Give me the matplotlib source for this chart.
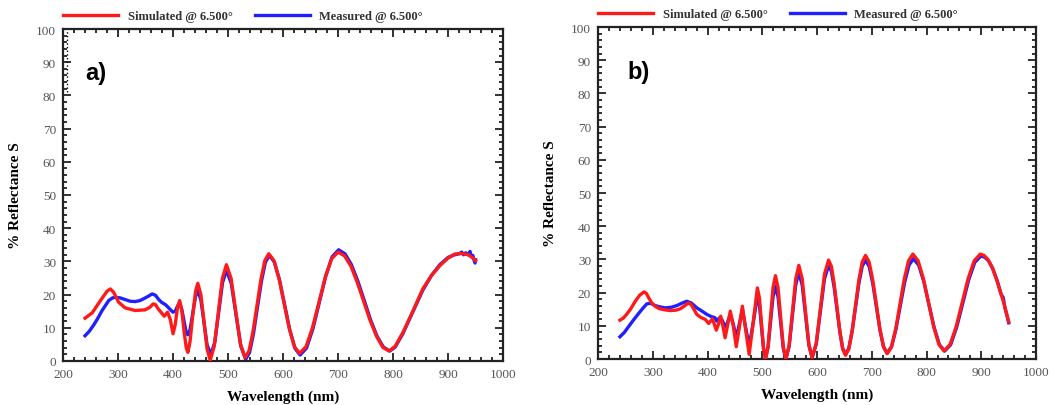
import matplotlib
matplotlib.use("Agg")
import matplotlib.pyplot as plt
from matplotlib.ticker import MultipleLocator

# ---- panel a) ----
a_sim_wl = [240, 253, 268, 280, 286, 292, 301, 313, 331, 349, 358, 364, 368, 373, 380, 384, 390, 395,
            400, 404, 408, 412, 416, 420, 424, 427, 431, 436, 441, 445,
            450.6, 456.3, 461.9, 467.5, 474.9, 482.3, 489.6, 497, 505.5, 514, 522.5, 531,
            538.2, 545.3, 552.5, 559.7, 566.8, 574, 583.3, 592.7, 602, 611.3, 620.7, 630,
            641.7, 653.3, 665, 676.7, 688.3, 700, 711.6, 723.3, 734.9, 746.5, 758.1, 769.8, 781.4, 793,
            804, 818, 836, 854, 870, 885, 900, 912, 925, 937, 945, 950]
a_sim_val = [12.9, 14.5, 18.2, 21.0, 21.7, 20.7, 17.7, 16.0, 15.2, 15.4, 16.2, 17.2, 17.0, 15.7, 14.3, 13.5, 14.7, 12.5,
             8.2, 11.0, 16.0, 18.2, 15.0, 9.0, 4.0, 2.6, 6.0, 14.0, 21.0, 23.4,
             20.0, 11.8, 3.6, 0.2, 4.4, 14.6, 24.8, 29.0, 24.9, 15.0, 5.1, 1.0,
             3.1, 8.8, 16.6, 24.5, 30.2, 32.3, 30.3, 24.8, 17.3, 9.8, 4.3, 2.3,
             4.3, 9.9, 17.5, 25.2, 30.8, 32.8, 31.7, 28.6, 23.7, 18.0, 12.3, 7.5, 4.1, 3.0,
             4.5, 8.6, 15.0, 21.7, 25.8, 28.7, 31.0, 32.2, 32.4, 32.0, 31.0, 30.2]

a_meas_wl = [240, 248, 256, 263, 271, 283, 290, 295, 304, 313, 322, 331, 340, 346, 355, 362, 368, 374, 379,
             386, 391, 396, 400, 404, 408, 412, 416, 420, 424, 427, 431, 436, 441, 445,
             450.6, 456.3, 461.9, 469, 476, 483, 490, 497, 505.8, 514.5, 523.3, 532,
             539.2, 546.3, 553.5, 560.7, 567.8, 575, 584.3, 593.7, 603, 612.3, 621.7, 631,
             642.7, 654.3, 666, 677.7, 689.3, 701, 712.6, 724.3, 735.9, 747.5, 759.1, 770.8, 782.4, 794,
             804, 818, 836, 854, 870, 885, 900, 912, 920, 925, 928, 932, 936, 940, 942, 945, 947, 949, 950]
a_meas_val = [7.6, 9.0, 10.9, 12.8, 15.2, 18.2, 19.0, 19.2, 19.0, 18.5, 18.0, 17.9, 18.2, 18.7, 19.5, 20.2, 19.8, 18.5, 17.7,
              17.0, 16.2, 15.3, 14.7, 15.0, 16.5, 17.5, 15.5, 12.0, 8.5, 7.9, 9.5, 14.5, 19.5, 21.2,
              18.4, 11.6, 4.8, 2.0, 5.7, 14.7, 23.6, 27.3, 23.4, 13.9, 4.4, 0.5,
              2.6, 8.3, 16.2, 24.0, 29.7, 31.8, 29.8, 24.3, 16.8, 9.3, 3.8, 1.8,
              3.9, 9.7, 17.7, 25.6, 31.4, 33.5, 32.3, 29.0, 24.1, 18.3, 12.4, 7.5, 4.2, 3.0,
              4.2, 8.3, 14.8, 21.3, 25.8, 29.0, 31.2, 32.0, 32.3, 32.8, 32.0, 32.6, 32.0, 33.0, 31.5, 31.8, 30.5, 29.5, 30.5]

# ---- panel b) ----
b_sim_wl = [240, 246, 252, 260, 268, 276, 284, 288, 293, 298, 305, 313, 322, 332, 342, 350, 358, 365, 370, 375,
            380.5, 388, 396, 402, 409, 416, 420, 424, 428, 432, 437, 441.5, 447, 452.4, 458, 463.6, 469, 476, 483, 491,
            494.8, 498.5, 502.3, 506, 510.5, 515, 519.5, 524, 528.8, 533.5, 538.3, 543,
            549, 555, 561, 566.7, 572.8, 578.9, 585, 591, 598.5, 606, 613.5, 621,
            626.2, 631.3, 636.5, 641.7, 646.8, 652, 658.1, 664.2, 670.3, 676.3, 682.4, 688.5,
            695.1, 701.7, 708.3, 714.8, 721.4, 728, 735.8, 743.7, 751.5, 759.3, 767.2, 775,
            784.5, 794, 803.5, 813, 822.5, 832, 843, 854, 865, 876, 887, 898,
            905, 912, 920, 928, 935, 942, 950]
b_sim_val = [11.7, 12.3, 13.4, 15.2, 17.4, 19.2, 20.2, 19.8, 18.3, 16.9, 15.8, 15.1, 14.8, 14.6, 14.7, 15.1, 16.0, 16.9, 16.4, 15.0,
             13.4, 12.5, 11.9, 10.7, 12.1, 8.7, 10.5, 12.9, 10.0, 6.4, 10.5, 14.4, 10.0, 3.7, 9.5, 15.9, 9.5, 1.4, 10.5, 21.4,
             18.3, 10.7, 3.1, 0.0, 3.7, 12.6, 21.4, 25.1, 21.4, 12.6, 3.7, 0.0,
             4.1, 14.1, 24.1, 28.2, 24.2, 14.3, 4.4, 0.4, 4.7, 15.1, 25.5, 29.8,
             27.9, 22.6, 15.5, 8.3, 3.0, 1.1, 3.1, 8.6, 16.2, 23.7, 29.2, 31.2,
             29.2, 23.8, 16.4, 9.0, 3.6, 1.6, 3.6, 9.1, 16.6, 24.1, 29.6, 31.6,
             29.6, 24.3, 17.0, 9.7, 4.4, 2.4, 4.4, 9.7, 17.0, 24.3, 29.6, 31.6,
             31.2, 30.0, 27.5, 23.8, 20.2, 16.3, 11.2]

b_meas_wl = [240, 248, 255.5, 265, 274, 282, 289, 296, 304, 313, 322.5, 334, 344, 353, 362, 370,
             380.5, 390, 399, 408, 413, 417, 421, 426, 430, 434, 438, 441.5, 447, 452.4, 458, 463.6, 469, 476, 483, 491,
             494.8, 498.5, 502.3, 506, 510.5, 515, 519.5, 524, 528.8, 533.5, 538.3, 543,
             549, 555, 561, 566.7, 572.8, 578.9, 585, 591, 598.5, 606, 613.5, 621,
             626.2, 631.3, 636.5, 641.7, 646.8, 652, 658.1, 664.2, 670.3, 676.3, 682.4, 688.5,
             695.1, 701.7, 708.3, 714.8, 721.4, 728, 736, 744, 752, 760, 768, 776,
             785.5, 795, 804.5, 814, 823.5, 833, 844, 855, 866, 877, 888, 899,
             906, 913, 921, 929, 936, 940, 943, 947, 950]
b_meas_val = [6.7, 8.0, 9.7, 11.8, 13.7, 15.3, 16.6, 16.8, 16.1, 15.7, 15.4, 15.6, 16.1, 16.8, 17.4, 16.9,
              15.4, 14.4, 13.4, 12.7, 12.5, 11.4, 12.3, 11.9, 10.5, 9.7, 11.8, 13.4, 10.5, 6.4, 10.5, 14.9, 10.0, 3.9, 10.5, 18.9,
              16.2, 9.6, 3.0, 0.3, 3.5, 11.1, 18.7, 21.9, 18.7, 11.0, 3.2, 0.0,
              3.8, 13.1, 22.3, 26.1, 22.3, 13.3, 4.2, 0.4, 4.5, 14.3, 24.1, 28.2,
              26.4, 21.5, 14.8, 8.1, 3.2, 1.4, 3.3, 8.5, 15.6, 22.7, 27.9, 29.8,
              27.9, 22.8, 15.8, 8.8, 3.7, 1.8, 3.7, 8.9, 16.0, 23.1, 28.3, 30.2,
              28.3, 23.3, 16.3, 9.4, 4.3, 2.4, 4.3, 9.6, 16.7, 23.9, 29.1, 31.0,
              30.7, 29.6, 27.2, 23.6, 19.5, 18.5, 15.5, 13.0, 10.9]

panels = [
    ("a)", a_sim_wl, a_sim_val, a_meas_wl, a_meas_val, [0.0598, 0.1084, 0.4175, 0.8177], 0.050, 0.870),
    ("b)", b_sim_wl, b_sim_val, b_meas_wl, b_meas_val, [0.5674, 0.1133, 0.4156, 0.8177], 0.068, 0.865),
]

# stray dotted mark in panel a
dotted_x = [207, 207]
dotted_y = [81, 100]

serif = "Liberation Serif"
fig = plt.figure(figsize=(10.54, 4.06), dpi=100)

for label, sw, sv, mw, mv, rect, lx, ly in panels:
    ax = fig.add_axes(rect)
    ax.plot(mw, mv, color="#1f1fff", lw=2.4, label="Measured @ 6.500°", zorder=2)
    ax.plot(sw, sv, color="#ff1a1a", lw=2.4, label="Simulated @ 6.500°", zorder=3)
    ax.set_xlim(200, 1000)
    ax.set_ylim(0, 100)
    ax.xaxis.set_major_locator(MultipleLocator(100))
    ax.xaxis.set_minor_locator(MultipleLocator(20))
    ax.yaxis.set_major_locator(MultipleLocator(10))
    ax.yaxis.set_minor_locator(MultipleLocator(2))
    ax.tick_params(which="both", direction="in", top=True, right=True, width=1.3, color="#222222")
    ax.tick_params(which="major", length=5.5, labelsize=9.5, labelcolor="#555555", pad=5)
    ax.tick_params(which="minor", length=3)
    for t in ax.get_xticklabels() + ax.get_yticklabels():
        t.set_family(serif)
    for s in ax.spines.values():
        s.set_linewidth(1.6)
        s.set_color("#222222")
    ax.set_xlabel("Wavelength (nm)", family=serif, fontweight="bold", fontsize=11, labelpad=7)
    ax.set_ylabel("% Reflectance S", family=serif, fontweight="bold", fontsize=11, labelpad=10)
    ax.text(lx, ly, label, transform=ax.transAxes, family="Liberation Sans", fontweight="bold",
            fontsize=17, va="center", ha="left")
    if label == "a)":
        ax.plot(dotted_x, dotted_y, color="black", lw=1.0, ls=":")
    h, l = ax.get_legend_handles_labels()
    leg = ax.legend(h[::-1], l[::-1], loc="lower left", bbox_to_anchor=(-0.008, 1.01), ncol=2, frameon=False,
                    handlelength=4.4, handletextpad=0.75, columnspacing=1.8, borderpad=0.1, borderaxespad=0.2,
                    prop={"family": serif, "weight": "bold", "size": 9})
    for t in leg.get_texts():
        t.set_color("#333333")

fig.savefig("out.png", dpi=100)
